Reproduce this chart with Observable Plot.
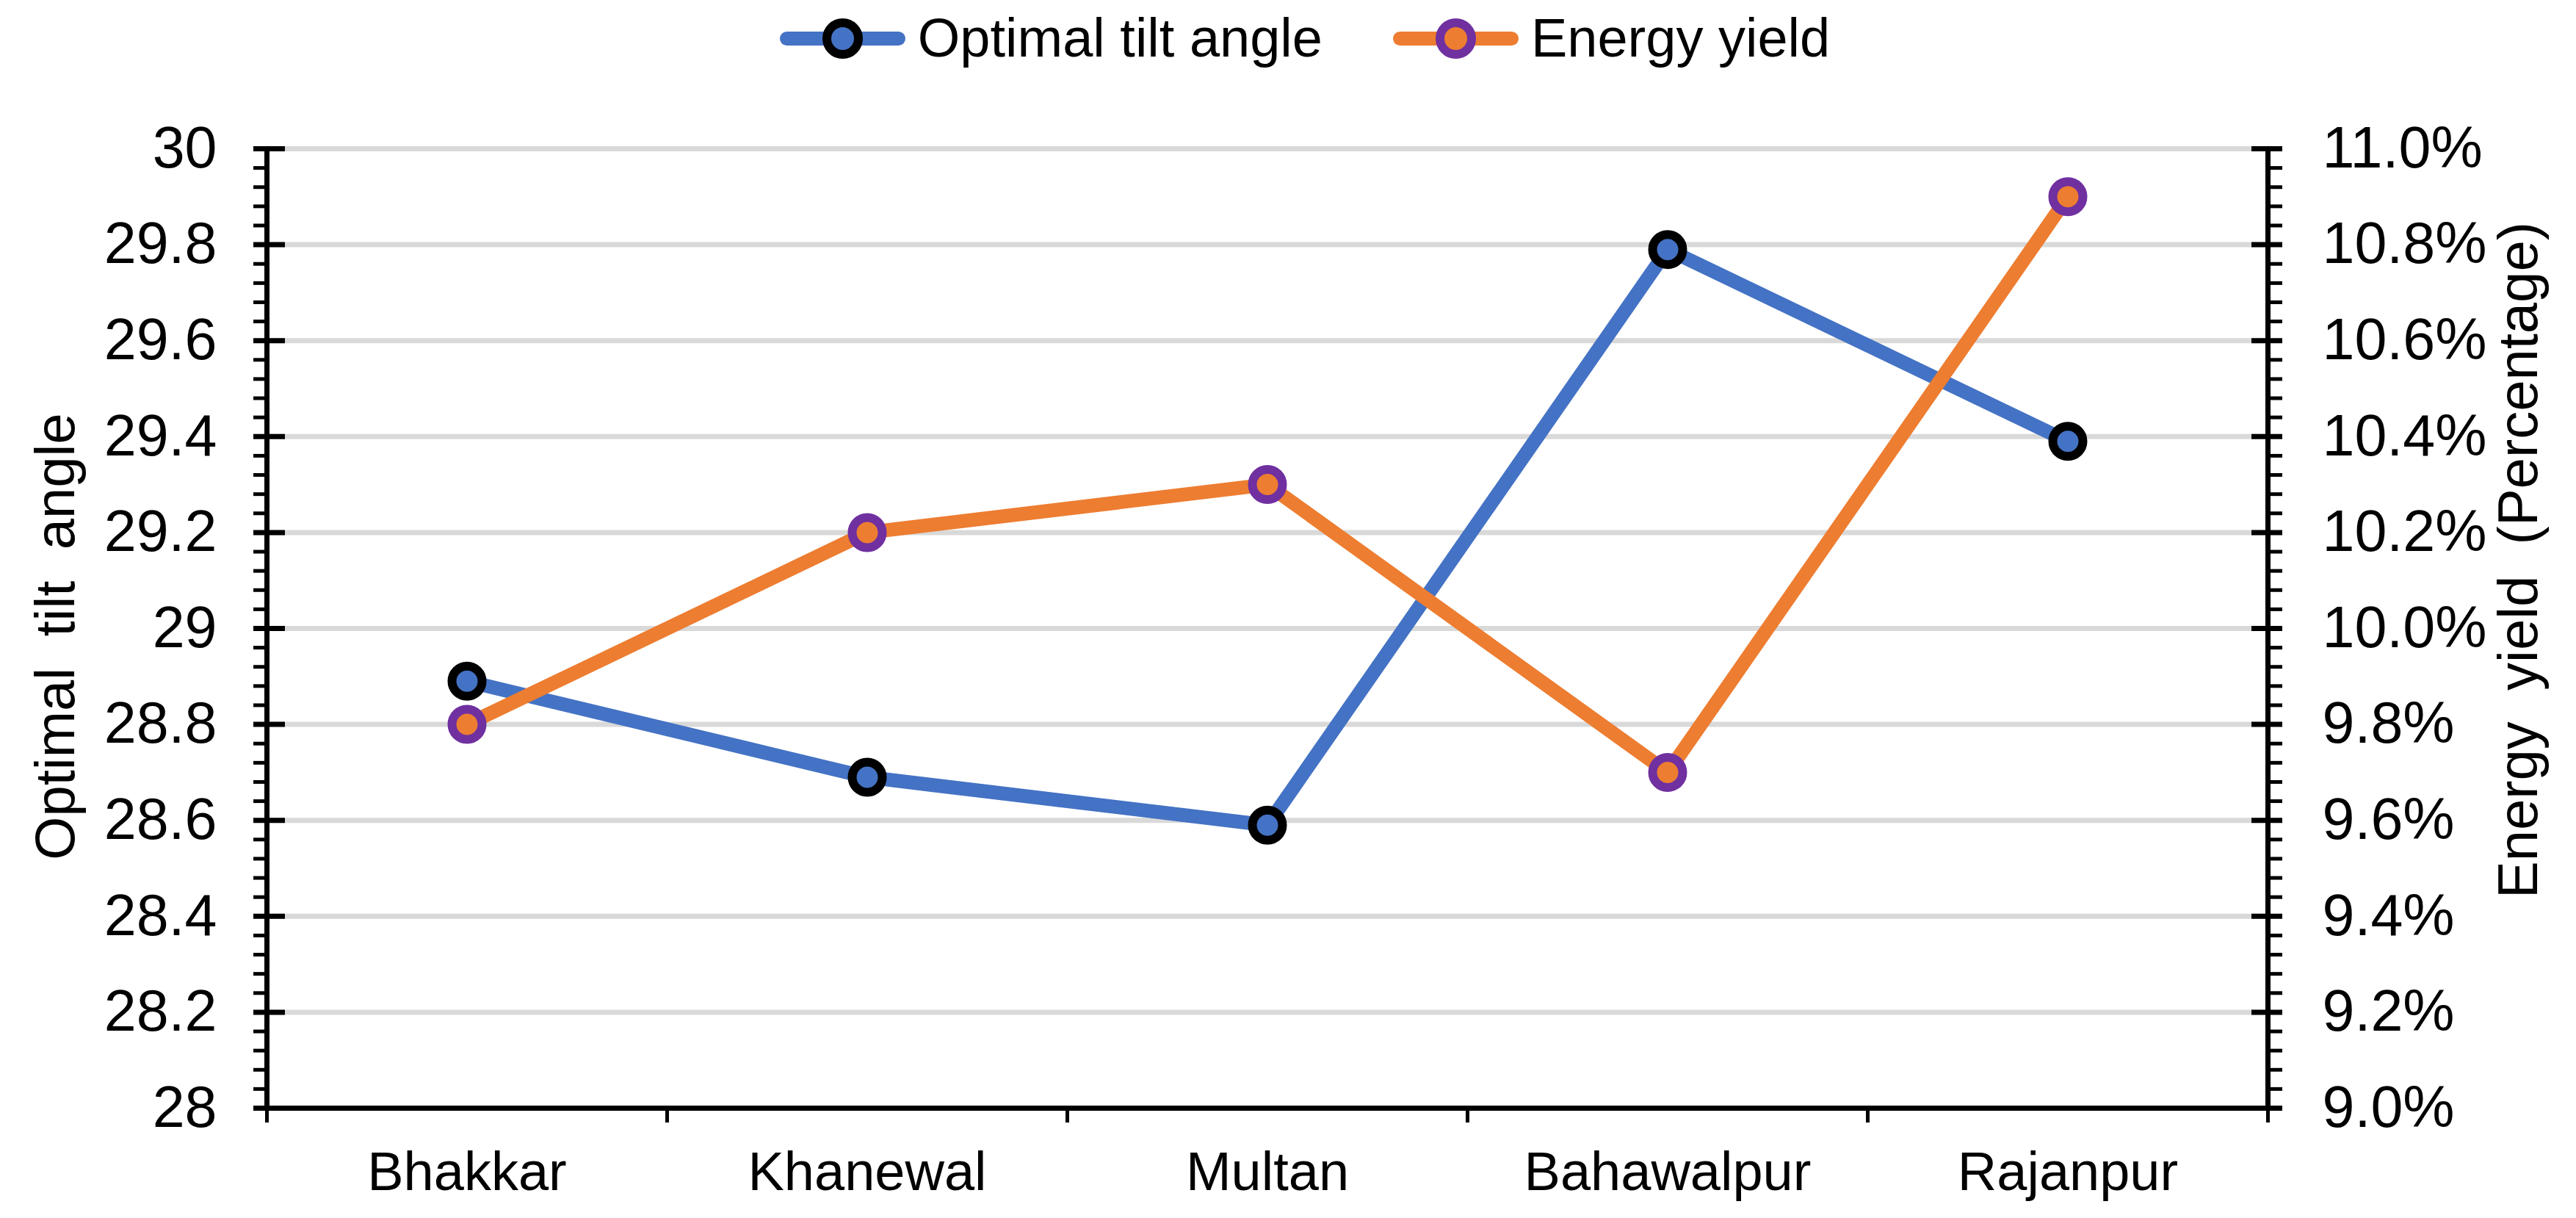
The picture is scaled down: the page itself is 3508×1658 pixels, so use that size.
<!DOCTYPE html>
<html>
<head>
<meta charset="utf-8">
<script src="https://cdn.jsdelivr.net/npm/d3@7"></script>
<script src="https://cdn.jsdelivr.net/npm/@observablehq/plot@0.6"></script>
<style>
  html, body { margin: 0; padding: 0; background: #fff; }
  body { width: 3508px; height: 1658px; overflow: hidden; font-family: "Liberation Sans", Arial, sans-serif; }
  #legend { height: 110px; display: flex; justify-content: center; align-items: flex-start; padding-left: 46px; box-sizing: border-box; }
  .item { display: flex; align-items: center; height: 104px; }
  .item + .item { margin-left: 96px; }
  .sw { position: relative; width: 171px; height: 104px; }
  .sw .ln { position: absolute; left: 0; right: 0; top: 42.5px; height: 19px; border-radius: 10px; }
  .sw .mk { position: absolute; left: 58px; top: 24.5px; width: 31px; height: 31px; border-radius: 50%; border: 12px solid; }
  .lab { margin-left: 17px; font-size: 74px; line-height: 1; color: #000; }
  #chart svg { display: block; }
</style>
</head>
<body>
<div id="legend"></div>
<div id="chart"></div>
<script>
// ---- data ----
const districts = ["Bhakkar", "Khanewal", "Multan", "Bahawalpur", "Rajanpur"];
const tiltAngle = [28.89, 28.69, 28.59, 29.79, 29.39];      // degrees (left axis)
const energyYield = [9.8, 10.2, 10.3, 9.7, 10.9];             // percent (right axis)
const tiltTicks = [28, 28.2, 28.4, 28.6, 28.8, 29, 29.2, 29.4, 29.6, 29.8, 30];
const yieldTickLabels = ["9.0%", "9.2%", "9.4%", "9.6%", "9.8%", "10.0%", "10.2%", "10.4%", "10.6%", "10.8%", "11.0%"];
const tiltDomain = [28, 30];
const yieldDomain = [9.0, 11.0];
const seriesNames = ["Optimal tilt angle", "Energy yield"];
const yTitleLeft = "Optimal  tilt  angle";
const yTitleRight = "Energy  yield  (Percentage)";

const colors = { tilt: "#4472C4", tiltEdge: "#000000", yield: "#ED7D31", yieldEdge: "#7030A0" };

// map yield (right axis) into the shared left scale
const yieldToTilt = d3.scaleLinear().domain(yieldDomain).range(tiltDomain);

const rows = districts.map((name, i) => ({ i, name, tilt: tiltAngle[i], yld: energyYield[i] }));
const minorTicks = d3.range(0, 51).map(k => 28 + k * 0.04).filter((v, k) => k % 5 !== 0);
const catCenters = districts.map((_, i) => i);
const catBounds = d3.range(districts.length + 1).map(k => k - 0.5);

// ---- legend ----
const legend = document.getElementById("legend");
[[seriesNames[0], colors.tilt, colors.tiltEdge], [seriesNames[1], colors.yield, colors.yieldEdge]].forEach(([name, c, e]) => {
  const it = document.createElement("div");
  it.className = "item";
  it.innerHTML = `<div class="sw"><div class="ln" style="background:${c}"></div><div class="mk" style="background:${c};border-color:${e}"></div></div><div class="lab">${name}</div>`;
  legend.appendChild(it);
});

const W = 3508, H = 1548;
const font = "'Liberation Sans', Arial, sans-serif";

const plot = Plot.plot({
  width: W,
  height: H,
  marginLeft: 363,
  marginRight: 420,
  marginTop: 92,
  marginBottom: 150,
  style: { fontFamily: font, fontSize: "79px", color: "#000", background: "#fff" },
  x: { type: "linear", domain: [-0.5, districts.length - 0.5], axis: null },
  y: { domain: tiltDomain, axis: null },
  marks: [
    // gridlines
    Plot.ruleY(tiltTicks.filter(d => d > tiltDomain[0]), { stroke: "#D9D9D9", strokeWidth: 7 }),
    // left axis: minor, major ticks, labels
    Plot.axisY({ anchor: "left", ticks: minorTicks, tickSize: 18, text: null, strokeWidth: 5, label: null }),
    Plot.axisY({ anchor: "left", ticks: tiltTicks, tickSize: 43, dx: 25, text: null, strokeWidth: 7, label: null }),
    Plot.axisY({ anchor: "left", ticks: tiltTicks, tickSize: 0, tickPadding: 68, tickFormat: d => String(d), fontSize: 79, label: null }),
    // right axis
    Plot.axisY({ anchor: "right", ticks: minorTicks, tickSize: 19, text: null, strokeWidth: 5, label: null }),
    Plot.axisY({ anchor: "right", ticks: tiltTicks, tickSize: 42, dx: -23, text: null, strokeWidth: 7, label: null }),
    Plot.axisY({ anchor: "right", ticks: tiltTicks, tickSize: 0, tickPadding: 74, tickFormat: (d, k) => yieldTickLabels[tiltTicks.indexOf(d)], fontSize: 79, label: null }),
    // bottom axis
    Plot.axisX({ anchor: "bottom", ticks: catBounds, tickSize: 20, text: null, strokeWidth: 5, label: null }),
    Plot.axisX({ anchor: "bottom", ticks: catCenters, tickSize: 0, tickPadding: 59, tickFormat: i => districts[i], fontSize: 74, label: null }),
    // axis lines
    Plot.ruleX([catBounds[0], catBounds[catBounds.length - 1]], { stroke: "#000", strokeWidth: 7 }),
    Plot.ruleY([tiltDomain[0]], { stroke: "#000", strokeWidth: 7 }),
    // axis titles
    Plot.text([yTitleLeft], { frameAnchor: "left", rotate: -90, dx: -287, dy: 11, fontSize: 76, textAnchor: "middle", lineAnchor: "middle", fill: "#000" }),
    Plot.text([yTitleRight], { frameAnchor: "right", rotate: -90, dx: 342, dy: -93, fontSize: 76, textAnchor: "middle", lineAnchor: "middle", fill: "#000" }),
    // series: tilt
    Plot.line(rows, { x: "i", y: "tilt", stroke: colors.tilt, strokeWidth: 19, strokeLinejoin: "round", strokeLinecap: "round" }),
    Plot.dot(rows, { x: "i", y: "tilt", r: 20.5, fill: colors.tilt, stroke: colors.tiltEdge, strokeWidth: 12 }),
    // series: yield
    Plot.line(rows, { x: "i", y: d => yieldToTilt(d.yld), stroke: colors.yield, strokeWidth: 19, strokeLinejoin: "round", strokeLinecap: "round" }),
    Plot.dot(rows, { x: "i", y: d => yieldToTilt(d.yld), r: 20.5, fill: colors.yield, stroke: colors.yieldEdge, strokeWidth: 12 })
  ]
});
// keep double spaces in titles
plot.querySelectorAll("text").forEach(t => t.setAttribute("style", (t.getAttribute("style") || "") + ";white-space:pre"));
document.getElementById("chart").appendChild(plot);
</script>
</body>
</html>
